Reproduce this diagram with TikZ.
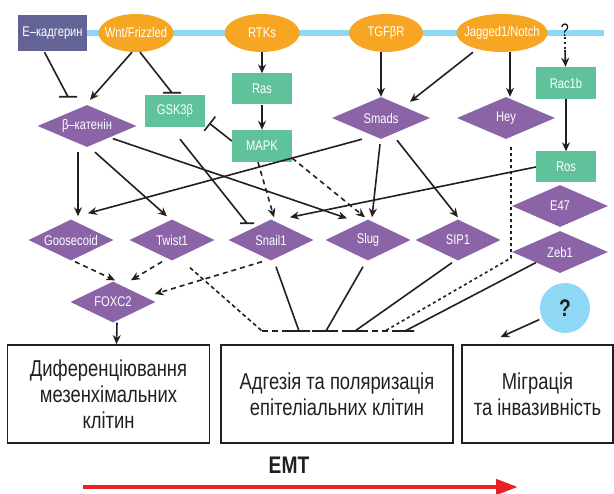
\documentclass[tikz,border=0pt]{standalone}
\usepackage{fontspec}
\setmainfont{Liberation Sans}[FakeStretch=0.8]
\usetikzlibrary{shapes.geometric,calc,arrows.meta}
\tikzset {>={Stealth[length=9pt,width=8pt]}}
\definecolor{ink}{RGB}{35,31,32}
\definecolor{tfviolet}{RGB}{139,99,167}
\definecolor{kinmint}{RGB}{96,194,155}
\definecolor{recamber}{RGB}{246,166,35}
\definecolor{cadslate}{RGB}{99,99,150}
\definecolor{membrane}{RGB}{142,216,246}
\definecolor{emtred}{RGB}{232,32,40}
\tikzset{
  lab/.style={text=white, font=\fontsize{14}{16}\selectfont},
  tf/.style={diamond, aspect=2, fill=tfviolet, lab, inner sep=0pt, minimum width=85pt, minimum height=41pt},
  kin/.style={rectangle, fill=kinmint, lab, inner sep=0pt, minimum width=60pt, minimum height=32pt},
  rec/.style={ellipse, fill=recamber, inner sep=0pt, minimum width=75pt, minimum height=38pt, label={[lab]center:#1}},
  outbox/.style={draw=ink, line width=1.8pt, text=ink, align=center, minimum height=98pt, font=\fontsize{23}{26}\selectfont},
  link/.style={draw=ink, line width=1.6pt},
  act/.style={link, ->},
  dact/.style={act, dash pattern=on 5pt off 4pt},
  hbar/.style={link, to path={-- (\tikztotarget) ++(-#1,0) -- ++(2*#1,0)}},
}

\begin{document}
\begin{tikzpicture}[x=1pt,y=-1pt]
\useasboundingbox (0,0) rectangle (614,494);
% membrane
\draw[membrane, line width=6pt] (30,33) -- (604,33);
\node[kin, fill=cadslate, minimum width=69pt, minimum height=36pt] (ecad) at (52.5,33) {E–кадгерин};
\node[rec=Wnt/Frizzled] (wnt) at (136,33) {};
\node[rec=RTKs] (rtk) at (262,33) {};
\node[rec=TGFβR, minimum width=74pt] (tgf) at (386,33) {};
\node[rec=Jagged1/Notch, minimum width=91pt] (jag) at (502,33) {};
\node[font=\fontsize{18}{20}\selectfont, inner sep=1pt] (qtop) at (565,30) {?};
\coordinate (qmid) at (565,50);

% kinases
\node[kin] (gsk) at (175,111) {GSK3β};
\node[kin, minimum height=31pt] (ras) at (262,89) {Ras};
\node[kin] (mapk) at (262,146) {MAPK};
\node[kin] (rac) at (566,83) {Rac1b};
\node[kin, minimum height=31pt] (ros) at (566,167) {Ros};

% transcription factors
\node[tf, minimum width=99pt, minimum height=42pt] (bcat) at (87,126) {β–катенін};
\node[tf, minimum width=98pt, minimum height=42pt] (smads) at (381,118) {Smads};
\node[tf, minimum width=98pt, minimum height=42pt] (hey) at (506,118) {Hey};
\node[tf, minimum width=96pt, minimum height=42pt] (e47) at (560,206) {E47};
\node[tf, minimum width=96pt, minimum height=42pt] (zeb) at (560,252) {Zeb1};
\foreach \x/\name/\txt in {71/goose/Goosecoid,172/twist/Twist1,271/snail/Snail1,368/slug/Slug,458/sip/SIP1}
  \node[tf] (\name) at (\x,240) {\txt};
\node[tf] (foxc) at (113,302) {FOXC2};
\node[circle, fill=membrane, minimum size=50pt, text=ink, font=\bfseries\fontsize{24}{26}\selectfont] (qcirc) at (565,308) {?};

% outcomes
\node[outbox, minimum width=202pt] (box1) at (108.5,394) {Диференціювання\\мезенхімальних\\клітин};
\node[outbox, minimum width=232pt] (box2) at (337,394) {Адгезія та поляризація\\епітеліальних клітин};
\node[outbox, minimum width=151pt] (box3) at (537.5,394) {Міграція\\та інвазивність};

% signalling from the membrane
\draw[hbar=9] ($(ecad.south)+(-8,1)$) to ($(bcat.north)+(-19,-8)$);
\draw[act] ($(wnt.south)+(-4,0)$) -- ($(bcat.north)+(3,-5)$);
\draw[hbar=9] ($(wnt.south)+(4,0)$) to ($(gsk.north)+(-3,-2)$);
\draw[act] (rtk) -- (ras);
\draw[act] (ras) -- (mapk);
\draw[link, -{Bar[width=18pt]}] ($(mapk.west)+(0,-5)$) -- ($(gsk.south east)+(4,-4)$);
\draw[act] ($(tgf.south)+(-5,0)$) -- (smads.north);
\draw[act] ($(jag.south)+(-29,0)$) -- ($(smads.north)+(29,5)$);
\draw[act] ($(jag.south)+(8,0)$) -- ($(hey.north)+(4,0)$);
\draw[link, dash pattern=on 2pt off 3pt] (qtop) -- (qmid);
\draw[act] (qmid) -- (rac);
\draw[act] (rac) -- (ros);

% targets
\draw[act] ($(bcat.south)+(-9,5)$) -- ($(goose.north)+(7,-3)$);
\draw[act] ($(bcat.south)+(8,5)$) -- ($(twist.north)+(-5,-3)$);
\draw[act] ($(bcat.south east)+(1,2)$) -- ($(slug.north)+(-21,-1)$);
\draw[hbar=7] ($(gsk.south)+(5,12)$) to ($(snail.north)+(-24,4)$);
\draw[act] ($(smads.south)+(-19,0)$) -- ($(goose.north)+(17,-6)$);
\draw[act] ($(smads.south)+(-1,5)$) -- ($(slug.north)+(4,-2)$);
\draw[act] ($(smads.south)+(16,1)$) -- ($(sip.north)+(0,-2)$);
\draw[act] (ros.west) -- ($(snail.north)+(19,-2)$);
\draw[dact] ($(mapk.south)+(-4,0)$) -- ($(snail.north)+(3,-2)$);
\draw[dact] ($(mapk.south east)+(0,-4)$) -- ($(slug.north)+(-3,-2)$);

% FOXC2
\draw[dact] ($(goose.south)+(4,1)$) -- ($(foxc.north)+(2,-1)$);
\draw[dact] ($(twist.south)+(-10,1)$) -- ($(foxc.north)+(18,-1)$);
\draw[dact] ($(snail.south)+(-9,1)$) -- ($(foxc.east)+(-1,-8)$);
\draw[act] ($(foxc.south)+(4,0)$) -- ($(box1.north)+(8,0)$);

% adhesion
\coordinate (adhL) at (262,331);
\coordinate (adhR) at (414,331);
\foreach \name/\x in {tsnail/299,tslug/326,tsip/355,they/385,tzeb/405}
  \coordinate (\name) at (\x,331);
\coordinate (heyc) at (511,258);
\draw[link, dash pattern=on 6pt off 4pt] (adhL) -- (adhR);
\draw[link, dash pattern=on 4pt off 3pt] ($(twist.south)+(18,7)$) -- (adhL);
\draw[hbar=11] ($(snail.south)+(5,6)$) to (tsnail);
\draw[hbar=11] ($(slug.south)+(-5,6)$) to (tslug);
\draw[hbar=10] ($(sip.south)+(-6,2)$) to (tsip);
\draw[hbar=9] (zeb.south west) to (tzeb);
\draw[link, dash pattern=on 3pt off 3pt] ($(hey.south)+(5,8)$) -- (heyc) -- (they);

% migration
\draw[act, shorten <=3pt] (qcirc) -- ($(box3.north)+(-37,-7)$);

% EMT
\node[font=\bfseries\fontsize{24}{28}\selectfont, text=ink] (emt) at (289,465) {EMT};
\coordinate (emtL) at (83,487);
\coordinate (emtR) at (518,487);
\draw[emtred, line width=4.5pt, -{Triangle[length=22pt,width=15pt]}] (emtL) -- (emtR);
\end{tikzpicture}
\end{document}
